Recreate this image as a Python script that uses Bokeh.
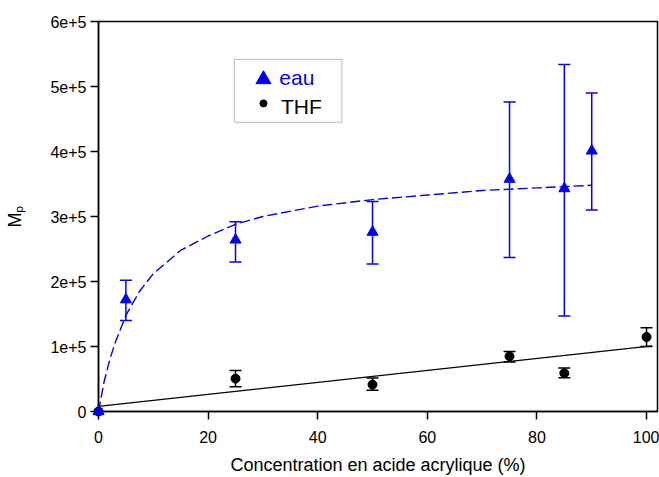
import math
from bokeh.plotting import figure
from bokeh.models import (ColumnDataSource, Whisker, TeeHead, FixedTicker, Label,
                          BoxAnnotation, Range1d)
from bokeh.embed import file_html
from bokeh.resources import INLINE

# ---------------- data ----------------
conc_eau = [0, 5, 25, 50, 75, 85, 90]
mp_eau = [0, 172000, 264000, 276000, 357500, 343000, 401000]

err_conc_eau = [5, 25, 50, 75, 85, 90]
err_eau_upper = [202000, 292000, 323000, 476000, 534000, 490000]
err_eau_lower = [140000, 230000, 227000, 237000, 147000, 310000]

conc_thf = [0, 25, 50, 75, 85, 100]
mp_thf = [0, 50600, 41400, 85000, 59000, 114600]

err_conc_thf = [25, 50, 75, 85, 100]
err_thf_upper = [63000, 51700, 92500, 67000, 129000]
err_thf_lower = [38000, 32700, 76000, 52000, 100000]

# fitted curves as drawn in the reference
fit_eau_x = [0, 1, 2, 3, 5, 7.5, 10, 15, 20, 25, 30, 40, 50, 60, 70, 80, 90]
fit_eau_y = [0, 45000, 78000, 105000, 148000, 185000, 212000, 248000, 270000,
             288000, 300000, 316000, 326000, 333000, 340000, 344000, 348000]
fit_thf_x = [0, 101]
fit_thf_y = [8000, 101000]

x_ticks = [0, 20, 40, 60, 80, 100]
y_tick_values = [0, 100000, 200000, 300000, 400000, 500000, 600000]
y_tick_labels = ["0", "1e+5", "2e+5", "3e+5", "4e+5", "5e+5", "6e+5"]

x_title = "Concentration en acide acrylique (%)"
y_title = "M\u209a"
series_names = ["eau", "THF"]

FONT = "Liberation Sans"
BLUE = "#0000ff"

p = figure(width=659, height=477, output_backend="svg", toolbar_location=None,
           x_range=Range1d(0, 102), y_range=Range1d(0, 600000),
           min_border_left=98, min_border_right=2, min_border_top=21,
           min_border_bottom=65)
p.xgrid.visible = False
p.ygrid.visible = False
p.outline_line_color = "black"
p.outline_line_width = 1.5
p.background_fill_color = "white"
p.border_fill_color = "white"

for ax in (p.xaxis[0], p.yaxis[0]):
    ax.axis_line_width = 1.5
    ax.major_tick_line_width = 1.5
    ax.major_tick_in = 0
    ax.major_tick_out = 8
    ax.minor_tick_in = 0
    ax.minor_tick_out = 0
    ax.major_label_text_font = FONT
    ax.major_label_text_font_size = "16px"
    ax.major_label_text_color = "black"
    ax.axis_label_text_font = FONT
    ax.axis_label_text_font_style = "normal"
    ax.axis_label_text_font_size = "18px"
    ax.axis_label_text_color = "black"

p.xaxis.ticker = FixedTicker(ticks=x_ticks)
p.yaxis.ticker = FixedTicker(ticks=y_tick_values)
p.yaxis.major_label_overrides = {v: l for v, l in zip(y_tick_values, y_tick_labels)}
p.xaxis.major_label_standoff = 11
p.yaxis.major_label_standoff = 4
p.xaxis.axis_label = x_title
p.xaxis.axis_label_standoff = 9
p.yaxis.axis_label = y_title
p.yaxis.axis_label_standoff = 22

# error bars
src_err_eau = ColumnDataSource(dict(x=err_conc_eau, up=err_eau_upper, lo=err_eau_lower))
src_err_thf = ColumnDataSource(dict(x=err_conc_thf, up=err_thf_upper, lo=err_thf_lower))
p.add_layout(Whisker(source=src_err_eau, base="x", upper="up", lower="lo",
                     line_color=BLUE, line_width=1.5,
                     upper_head=TeeHead(size=12, line_color=BLUE, line_width=1.5),
                     lower_head=TeeHead(size=12, line_color=BLUE, line_width=1.5)))
p.add_layout(Whisker(source=src_err_thf, base="x", upper="up", lower="lo",
                     line_color="black", line_width=1.5,
                     upper_head=TeeHead(size=12, line_color="black", line_width=1.5),
                     lower_head=TeeHead(size=12, line_color="black", line_width=1.5)))

# fit lines
p.line(fit_thf_x, fit_thf_y, line_color="black", line_width=1.3)
p.line(fit_eau_x, fit_eau_y, line_color=BLUE, line_width=1.4, line_dash="10 4")

# data markers (not clipped at the axes)
r_thf = p.scatter(conc_thf, mp_thf, marker="circle", size=9,
                  fill_color="black", line_color="black")
r_eau = p.scatter(conc_eau, mp_eau, marker="triangle", size=11,
                  fill_color=BLUE, line_color=BLUE)
r_thf.level = "overlay"
r_eau.level = "overlay"

# legend (hand built to match the reference box)
p.add_layout(BoxAnnotation(left=24.8, right=44.4, top=541700, bottom=445000,
                           fill_color="white", fill_alpha=1.0,
                           line_color="#222222", line_width=1))
lg_eau = p.scatter([30.1], [511000], marker="triangle", size=15,
                   fill_color=BLUE, line_color=BLUE)
lg_thf = p.scatter([30.1], [474000], marker="circle", size=7,
                   fill_color="black", line_color="black")
lg_eau.level = "overlay"
lg_thf.level = "overlay"
lab_eau = Label(x=33.0, y=513400, text=series_names[0], text_align="left",
                text_baseline="middle", text_font=FONT,
                text_font_size="21px", text_color=BLUE)
lab_thf = Label(x=33.3, y=468500, text=series_names[1], text_align="left",
                text_baseline="middle", text_font=FONT,
                text_font_size="21px", text_color="black")
lab_eau.level = "overlay"
lab_thf.level = "overlay"
p.add_layout(lab_eau)
p.add_layout(lab_thf)

open("out.html", "w").write(file_html(p, INLINE))
